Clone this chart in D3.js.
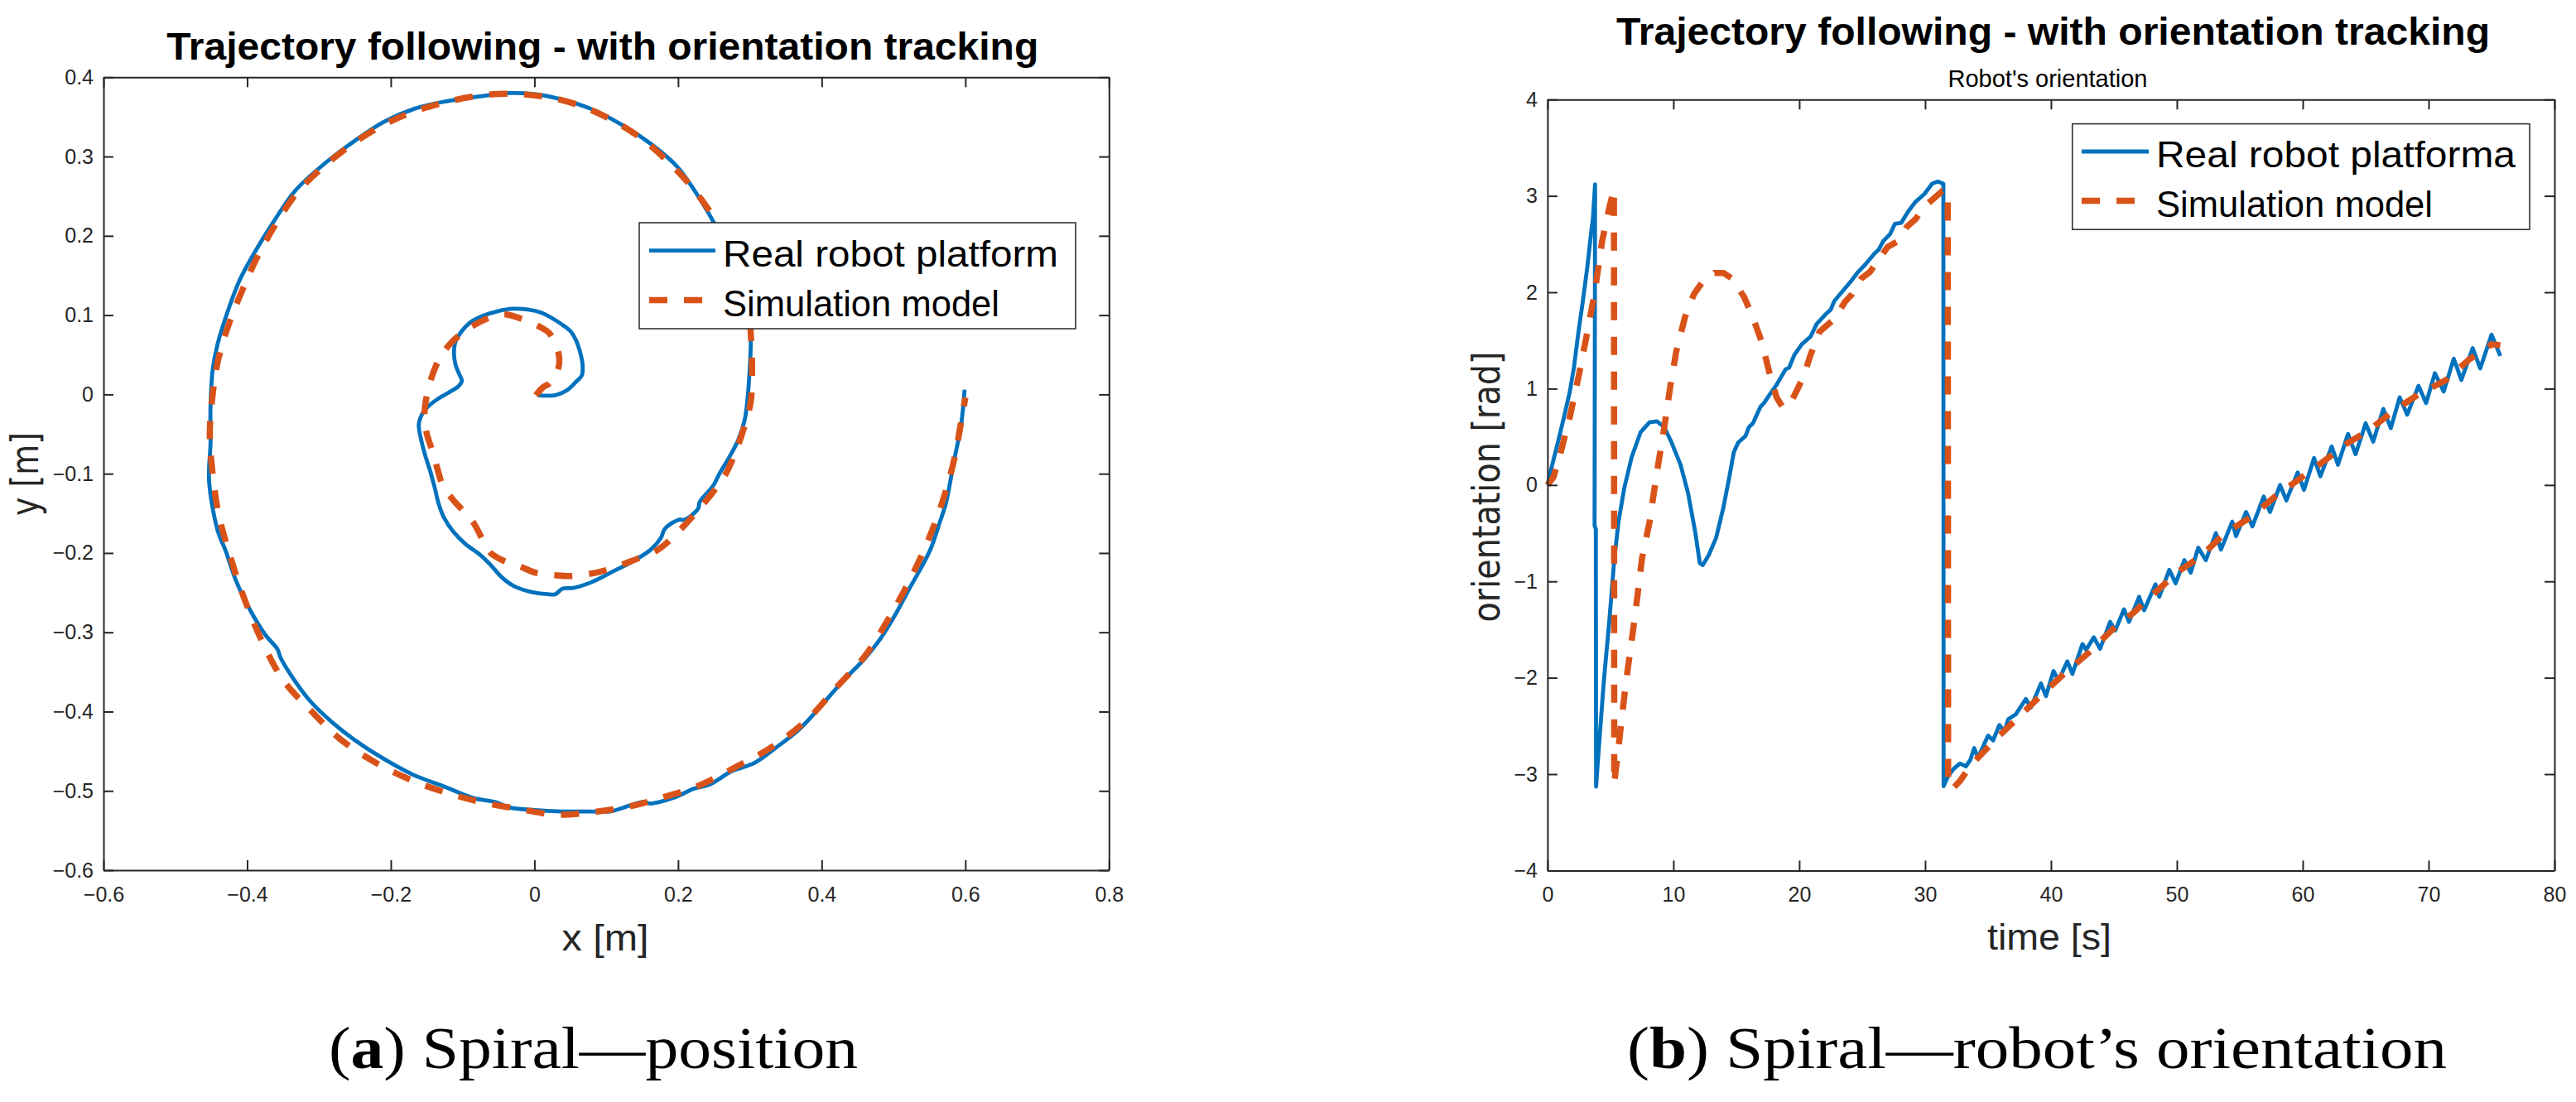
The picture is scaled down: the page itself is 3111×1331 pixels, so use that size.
<!DOCTYPE html>
<html>
<head>
<meta charset="utf-8">
<script src="https://cdn.jsdelivr.net/npm/d3@7"></script>
<style>
  body { margin: 0; background: #fff; }
  svg { display: block; }
</style>
</head>
<body>
<div id="chart"></div>
<script>
// ---- data: spiral position (x, y in m) ----
const spiralReal = [
  [0.004,-0.001],[0.029,-0.001],[0.045,0.005],[0.058,0.016],[0.066,0.024],[0.067,0.038],[0.064,0.052],
  [0.058,0.068],[0.050,0.080],[0.037,0.089],[0.023,0.097],[0.010,0.103],[-0.009,0.107],[-0.030,0.108],
  [-0.051,0.105],[-0.072,0.099],[-0.089,0.091],[-0.101,0.080],[-0.110,0.066],[-0.112,0.052],[-0.110,0.038],
  [-0.105,0.026],[-0.101,0.017],[-0.106,0.010],[-0.120,0.002],[-0.135,-0.006],[-0.149,-0.016],[-0.156,-0.024],
  [-0.161,-0.038],[-0.158,-0.056],[-0.152,-0.077],[-0.145,-0.097],[-0.139,-0.117],[-0.133,-0.139],[-0.125,-0.157],
  [-0.114,-0.172],[-0.097,-0.188],[-0.076,-0.202],[-0.062,-0.214],[-0.045,-0.231],[-0.028,-0.242],[-0.005,-0.249],
  [0.018,-0.252],[0.029,-0.252],[0.039,-0.245],[0.054,-0.244],[0.079,-0.237],[0.110,-0.223],[0.140,-0.209],
  [0.163,-0.195],[0.176,-0.181],[0.182,-0.169],[0.201,-0.158],[0.209,-0.158],[0.228,-0.144],[0.230,-0.136],
  [0.249,-0.115],[0.257,-0.101],[0.272,-0.078],[0.284,-0.057],[0.293,-0.031],[0.297,-0.003],[0.299,0.021],
  [0.301,0.056],[0.301,0.083],[0.295,0.124],[0.275,0.171],[0.249,0.218],[0.223,0.257],[0.198,0.288],
  [0.162,0.316],[0.120,0.341],[0.079,0.360],[0.038,0.372],[-0.003,0.379],[-0.034,0.380],[-0.075,0.376],
  [-0.127,0.369],[-0.168,0.360],[-0.209,0.344],[-0.250,0.320],[-0.291,0.292],[-0.333,0.257],[-0.363,0.218],
  [-0.389,0.180],[-0.410,0.145],[-0.425,0.110],[-0.441,0.064],[-0.448,0.031],[-0.451,-0.015],[-0.451,-0.062],
  [-0.453,-0.109],[-0.441,-0.172],[-0.430,-0.197],[-0.415,-0.236],[-0.394,-0.275],[-0.374,-0.304],[-0.358,-0.321],
  [-0.353,-0.333],[-0.333,-0.362],[-0.312,-0.387],[-0.281,-0.414],[-0.250,-0.436],[-0.209,-0.460],[-0.168,-0.480],
  [-0.127,-0.494],[-0.085,-0.509],[-0.055,-0.514],[-0.034,-0.521],[-0.003,-0.524],[0.038,-0.526],[0.079,-0.526],
  [0.105,-0.526],[0.131,-0.519],[0.151,-0.514],[0.162,-0.516],[0.193,-0.509],[0.223,-0.497],[0.244,-0.492],
  [0.275,-0.475],[0.306,-0.465],[0.337,-0.445],[0.368,-0.423],[0.398,-0.394],[0.429,-0.362],[0.460,-0.333],
  [0.481,-0.309],[0.501,-0.280],[0.522,-0.245],[0.543,-0.211],[0.553,-0.192],[0.563,-0.165],[0.573,-0.137],
  [0.584,-0.085],[0.594,-0.039],[0.599,0.006]
];
const spiralSim = [
  [0.002,-0.001],[0.012,0.009],[0.021,0.014],[0.033,0.032],[0.034,0.050],[0.021,0.077],[0.010,0.084],
  [-0.020,0.096],[-0.041,0.101],[-0.062,0.097],[-0.081,0.089],[-0.104,0.075],[-0.120,0.061],[-0.135,0.040],
  [-0.144,0.019],[-0.151,-0.007],[-0.153,-0.024],[-0.150,-0.049],[-0.143,-0.069],[-0.135,-0.094],[-0.128,-0.114],
  [-0.114,-0.132],[-0.098,-0.148],[-0.084,-0.163],[-0.074,-0.180],[-0.062,-0.199],[-0.047,-0.208],[-0.020,-0.217],
  [0.002,-0.225],[0.029,-0.228],[0.052,-0.229],[0.079,-0.226],[0.098,-0.222],[0.124,-0.214],[0.144,-0.207],
  [0.170,-0.197],[0.186,-0.186],[0.209,-0.165],[0.224,-0.150],[0.247,-0.125],[0.266,-0.101],[0.278,-0.077],
  [0.289,-0.050],[0.301,-0.010],[0.303,0.035],[0.301,0.080],[0.298,0.120],[0.280,0.170],[0.255,0.215],
  [0.225,0.255],[0.190,0.290],[0.150,0.322],[0.110,0.345],[0.070,0.362],[0.030,0.373],[-0.010,0.378],
  [-0.050,0.379],[-0.090,0.375],[-0.130,0.367],[-0.170,0.356],[-0.210,0.340],[-0.250,0.318],[-0.290,0.290],
  [-0.330,0.255],[-0.360,0.215],[-0.385,0.175],[-0.405,0.135],[-0.425,0.090],[-0.440,0.045],[-0.448,0.000],
  [-0.452,-0.050],[-0.448,-0.100],[-0.440,-0.150],[-0.425,-0.200],[-0.405,-0.255],[-0.380,-0.310],[-0.350,-0.360],
  [-0.310,-0.400],[-0.270,-0.435],[-0.220,-0.465],[-0.170,-0.487],[-0.120,-0.503],[-0.070,-0.515],[-0.020,-0.523],
  [0.030,-0.530],[0.080,-0.527],[0.130,-0.520],[0.180,-0.508],[0.230,-0.493],[0.280,-0.470],[0.330,-0.445],
  [0.380,-0.410],[0.420,-0.370],[0.460,-0.330],[0.495,-0.280],[0.525,-0.230],[0.550,-0.180],[0.570,-0.130],
  [0.585,-0.080],[0.595,-0.030],[0.600,-0.004]
];

// ---- data: robot orientation (time s, rad) ----
const orientReal = [
  [0,0],[0.3,0.17],[0.82,0.44],[1.3,0.7],[1.76,0.96],[2.1,1.22],[2.46,1.59],[2.8,1.9],[3.17,2.27],
  [3.52,2.68],[3.6,2.75],[3.78,3.12],[3.74,-0.42],[3.84,-0.46],[3.86,-3.13],[3.99,-2.89],[4.46,-2.06],
  [4.93,-1.38],[5.28,-0.81],[5.63,-0.39],[6.1,-0.03],[6.69,0.29],[7.4,0.55],[8.1,0.65],[8.69,0.66],
  [9.28,0.6],[9.86,0.44],[10.57,0.21],[11.16,-0.08],[11.74,-0.49],[12.1,-0.81],[12.33,-0.83],[12.8,-0.73],
  [13.39,-0.55],[13.98,-0.23],[14.44,0.08],[14.8,0.34],[15.15,0.44],[15.74,0.51],[16.0,0.6],[16.32,0.64],
  [16.91,0.81],[17.2,0.85],[17.5,0.91],[18.2,1.04],[18.91,1.2],[19.2,1.22],[19.61,1.35],[20.2,1.46],
  [20.9,1.54],[21.38,1.67],[22.08,1.77],[22.5,1.82],[22.79,1.91],[23.37,2.0],[24.08,2.11],[24.67,2.21],
  [25.26,2.29],[25.96,2.4],[26.3,2.44],[26.67,2.53],[27.2,2.6],[27.6,2.71],[28.1,2.72],[28.66,2.84],
  [29.25,2.94],[29.95,3.02],[30.54,3.125],[31.01,3.15],[31.45,3.125],[31.47,-3.125],[31.83,-3.02],
  [32.3,-2.94],[32.77,-2.89],[33.24,-2.92],[33.6,-2.85],[33.9,-2.73],[34.2,-2.83],[35.0,-2.6],[35.4,-2.65],
  [35.9,-2.49],[36.3,-2.56],[36.6,-2.43],[37.2,-2.38],[38.0,-2.22],[38.4,-2.31],[39.2,-2.06],[39.6,-2.19],
  [40.2,-1.93],[40.6,-2.03],[41.3,-1.83],[41.7,-1.96],[42.5,-1.65],[42.8,-1.71],[43.4,-1.58],[43.9,-1.70],
  [44.7,-1.42],[45.1,-1.51],[45.8,-1.29],[46.2,-1.42],[47.0,-1.16],[47.4,-1.30],[48.3,-1.03],[48.6,-1.16],
  [49.4,-0.88],[49.9,-1.02],[50.6,-0.78],[51.1,-0.91],[51.7,-0.65],[52.3,-0.78],[53.1,-0.50],[53.5,-0.67],
  [54.4,-0.38],[54.7,-0.53],[55.5,-0.28],[56.0,-0.43],[56.9,-0.12],[57.4,-0.28],[58.2,0.0],[58.7,-0.16],
  [59.6,0.13],[60.1,-0.05],[60.9,0.28],[61.4,0.09],[62.3,0.40],[62.8,0.21],[63.6,0.53],[64.2,0.32],
  [65.0,0.64],[65.6,0.45],[66.4,0.79],[67.0,0.59],[67.7,0.91],[68.3,0.73],[69.2,1.03],[69.8,0.85],
  [70.5,1.16],[71.2,0.97],[72.0,1.31],[72.6,1.09],[73.5,1.42],[74.1,1.21],[75.0,1.56],[75.7,1.34]
];
const orientSim = [
  [0,0],[0.47,0.08],[1.05,0.34],[1.76,0.7],[2.46,1.12],[3.17,1.59],[3.75,2.0],[4.34,2.53],[4.93,2.89],
  [5.28,3.07],[5.3,-3.1],[5.63,-2.73],[6.22,-2.06],[6.93,-1.38],[7.51,-0.76],[8.1,-0.39],[8.69,0.13],
  [9.28,0.6],[9.75,1.02],[10.22,1.38],[10.92,1.74],[11.63,1.98],[12.33,2.11],[13.27,2.2],[13.98,2.2],
  [14.69,2.14],[15.62,1.95],[16.32,1.74],[17.03,1.48],[17.62,1.17],[18.2,0.91],[18.67,0.81],[19.14,0.81],
  [19.73,0.96],[20.32,1.12],[20.9,1.35],[21.61,1.59],[22.32,1.67],[22.91,1.74],[23.62,1.9],[24.2,1.98],
  [24.9,2.14],[25.61,2.21],[26.32,2.34],[27.02,2.47],[27.84,2.53],[28.55,2.68],[29.25,2.76],[29.95,2.89],
  [30.66,2.97],[31.36,3.05],[31.8,3.05],[31.83,-3.125],[32.2,-3.15],[32.78,-3.07],[33.4,-2.95],[34.2,-2.83],
  [35.9,-2.60],[37.5,-2.40],[39.3,-2.17],[41.2,-1.94],[43.0,-1.74],[44.8,-1.51],[46.6,-1.32],[48.4,-1.10],
  [50.2,-0.89],[52.0,-0.73],[53.8,-0.50],[55.8,-0.34],[57.8,-0.12],[59.6,0.05],[61.7,0.25],[63.5,0.43],
  [65.3,0.57],[67.3,0.78],[69.2,0.94],[71.4,1.09],[73.2,1.30],[75.0,1.46],[75.7,1.45]
];

// ---- ticks and texts ----
const xTicksA = [-0.6, -0.4, -0.2, 0, 0.2, 0.4, 0.6, 0.8];
const yTicksA = [-0.6, -0.5, -0.4, -0.3, -0.2, -0.1, 0, 0.1, 0.2, 0.3, 0.4];
const xTicksB = [0, 10, 20, 30, 40, 50, 60, 70, 80];
const yTicksB = [-4, -3, -2, -1, 0, 1, 2, 3, 4];
const legendA = ["Real robot platform", "Simulation model"];
const legendB = ["Real robot platforma", "Simulation model"];
const titleText = "Trajectory following - with orientation tracking";

const width = 3111, height = 1331;
const blue = "#0072BD", orange = "#D95319", axisColor = "#262626";
const sans = "'Liberation Sans', Arial, Helvetica, sans-serif";

const svg = d3.select("#chart").append("svg")
  .attr("width", width)
  .attr("height", height)
  .attr("viewBox", `0 0 ${width} ${height}`);

svg.append("rect").attr("width", width).attr("height", height).attr("fill", "#fff");

// ---- scales ----
const xA = d3.scaleLinear().domain([-0.6, 0.8]).range([125, 1339.3]);
const yA = d3.scaleLinear().domain([-0.6, 0.4]).range([1051, 93.3]);
const xB = d3.scaleLinear().domain([0, 80]).range([1868.9, 3085]);
const yB = d3.scaleLinear().domain([-4, 4]).range([1051.4, 120.2]);

const fmt = d => d === 0 ? "0" : (Number.isInteger(d) ? d3.format("d")(d) : d3.format(".1f")(d));

function drawAxes(x, y, xTicks, yTicks) {
  const [x0, x1] = x.range();
  const [y0, y1] = y.range();

  const style = g => {
    g.attr("font-family", sans).attr("font-size", 25);
    g.select(".domain").attr("stroke", axisColor).attr("stroke-width", 2);
    g.selectAll(".tick line").attr("stroke", axisColor).attr("stroke-width", 2);
    g.selectAll(".tick text").attr("fill", axisColor);
  };

  svg.append("g")
    .attr("transform", `translate(0,${y0})`)
    .call(d3.axisBottom(x).tickValues(xTicks).tickFormat(fmt).tickSizeInner(-12).tickSizeOuter(0).tickPadding(20))
    .call(style);
  svg.append("g")
    .attr("transform", `translate(0,${y1})`)
    .call(d3.axisTop(x).tickValues(xTicks).tickFormat("").tickSizeInner(-12).tickSizeOuter(0))
    .call(style);
  svg.append("g")
    .attr("transform", `translate(${x0},0)`)
    .call(d3.axisLeft(y).tickValues(yTicks).tickFormat(fmt).tickSizeInner(-12).tickSizeOuter(0).tickPadding(12))
    .call(style);
  svg.append("g")
    .attr("transform", `translate(${x1},0)`)
    .call(d3.axisRight(y).tickValues(yTicks).tickFormat("").tickSizeInner(-12).tickSizeOuter(0))
    .call(style);
}

function drawSeries(x, y, real, sim, curve) {
  const line = d3.line().x(d => x(d[0])).y(d => y(d[1])).curve(curve);
  svg.append("path")
    .attr("d", line(real))
    .attr("fill", "none")
    .attr("stroke", blue)
    .attr("stroke-width", 4.8)
    .attr("stroke-linejoin", "round");
  svg.append("path")
    .attr("d", line(sim))
    .attr("fill", "none")
    .attr("stroke", orange)
    .attr("stroke-width", 7.5)
    .attr("stroke-dasharray", "22 20");
}

function drawLegend(box, labels, lineX, rows, textX, baselines, textLen) {
  svg.append("rect")
    .attr("x", box[0]).attr("y", box[1])
    .attr("width", box[2] - box[0]).attr("height", box[3] - box[1])
    .attr("fill", "#fff")
    .attr("stroke", axisColor)
    .attr("stroke-width", 1.5);
  svg.append("line")
    .attr("x1", lineX[0]).attr("x2", lineX[1])
    .attr("y1", rows[0]).attr("y2", rows[0])
    .attr("stroke", blue).attr("stroke-width", 4.8);
  svg.append("line")
    .attr("x1", lineX[0]).attr("x2", lineX[1])
    .attr("y1", rows[1]).attr("y2", rows[1])
    .attr("stroke", orange).attr("stroke-width", 7.5)
    .attr("stroke-dasharray", "22 20");
  labels.forEach((t, i) => {
    svg.append("text")
      .attr("x", textX).attr("y", baselines[i])
      .attr("font-family", sans).attr("font-size", 45)
      .attr("fill", "#000")
      .attr("textLength", textLen[i]).attr("lengthAdjust", "spacingAndGlyphs")
      .text(t);
  });
}

function addText(x, y, str, opts) {
  const t = svg.append("text")
    .attr("x", x).attr("y", y)
    .attr("text-anchor", "middle")
    .attr("font-family", opts.family || sans)
    .attr("font-size", opts.size)
    .attr("font-weight", opts.weight || "normal")
    .attr("fill", opts.fill || axisColor)
    .text(str);
  if (opts.len) t.attr("textLength", opts.len).attr("lengthAdjust", "spacingAndGlyphs");
  if (opts.rotate) t.attr("transform", `rotate(-90,${x},${y})`);
  return t;
}

// ---- panel (a): spiral position ----
drawSeries(xA, yA, spiralReal, spiralSim, d3.curveCatmullRom.alpha(0.5));
drawAxes(xA, yA, xTicksA, yTicksA);
drawLegend([772, 269, 1299, 397], legendA, [784, 864], [302.7, 362.5], 873, [322, 381.5], [405, 334]);

addText(727.7, 71.5, titleText, { size: 46, weight: "bold", fill: "#000", len: 1053 });
addText(731, 1148, "x [m]", { size: 44, len: 105 });
addText(46, 572.5, "y [m]", { family: "'DejaVu Sans', sans-serif", size: 46, len: 101, rotate: true });

// ---- panel (b): robot's orientation ----
drawSeries(xB, yB, orientReal, orientSim, d3.curveLinear);
drawAxes(xB, yB, xTicksB, yTicksB);
drawLegend([2502.7, 149.6, 3055, 277.2], legendB, [2514, 2595], [183, 242.4], 2604, [202, 261.5], [434, 334]);

addText(2479.5, 53.6, titleText, { size: 46, weight: "bold", fill: "#000", len: 1055 });
addText(2473, 105, "Robot's orientation", { size: 29, fill: "#000", len: 241 });
addText(2475, 1147, "time [s]", { size: 44, len: 150 });
addText(1811, 588, "orientation [rad]", { family: "'DejaVu Sans', sans-serif", size: 46, len: 327, rotate: true });

// ---- captions ----
function caption(cx, letter, rest, len) {
  const t = svg.append("text")
    .attr("x", cx).attr("y", 1290)
    .attr("text-anchor", "middle")
    .attr("font-family", "'Liberation Serif', 'Times New Roman', serif")
    .attr("font-size", 71)
    .attr("fill", "#000")
    .attr("textLength", len).attr("lengthAdjust", "spacingAndGlyphs");
  t.append("tspan").text("(");
  t.append("tspan").attr("font-weight", "bold").text(letter);
  t.append("tspan").text(") " + rest);
}
caption(716.5, "a", "Spiral\u2014position", 639);
caption(2460, "b", "Spiral\u2014robot\u2019s orientation", 990);
</script>
</body>
</html>
